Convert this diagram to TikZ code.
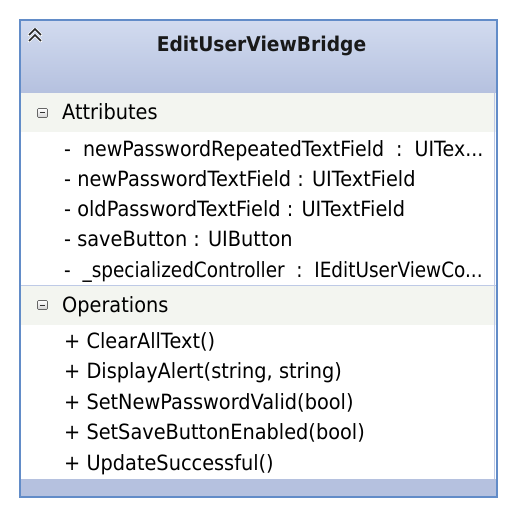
\documentclass[tikz,border=0pt]{standalone}
\usepackage{fontspec}
\setmainfont{DejaVu Sans}[FakeStretch=0.92]
\newfontfamily\narrowA{DejaVu Sans}[FakeStretch=0.905]
\newfontfamily\narrowB{DejaVu Sans}[FakeStretch=0.878]
\begin{document}
\begin{tikzpicture}[x=1pt,y=-1pt,
  item/.style={anchor=base west,inner sep=0pt,font=\fontsize{21}{24}\selectfont,text=black},
  head/.style={anchor=base west,inner sep=0pt,font=\fontsize{21}{24}\selectfont,text=black},
  ttl/.style={anchor=base,inner sep=0pt,font=\fontsize{20.3}{24}\selectfont\bfseries,text=black!90},
  toggle/.style={draw=gray!80!black,line width=0.6pt,rounded corners=1pt,top color=white,bottom color=gray!35}]
\definecolor{hdtop}{RGB}{210,219,239}
\definecolor{hdbot}{RGB}{181,193,223}
\definecolor{band}{RGB}{243,245,240}
\definecolor{frame}{RGB}{98,140,200}
\definecolor{sep}{RGB}{190,202,230}
\useasboundingbox (0,0) rectangle (515,516);
\fill[white] (0,0) rectangle (515,516);
% header
\shade[top color=hdtop,bottom color=hdbot] (20,20) rectangle (497,93);
% attribute band
\fill[band] (21,93) rectangle (496,132);
\fill[white] (21,132) rectangle (494,285);
% operations band
\fill[band] (21,286) rectangle (496,325);
\fill[white] (21,325) rectangle (494,479);
\draw[sep,line width=1.5pt] (21,285.5) -- (496,285.5);
\draw[sep,line width=0.8pt] (494.4,93) -- (494.4,479);
% bottom band
\fill[hdbot] (20,479) rectangle (497,497);
% frame
\draw[frame,line width=2.2pt] (20,20) rectangle (497,497);
% collapse chevrons
\draw[white,line width=3pt,line cap=round,line join=round] (29,35) -- (35,29) -- (41,35) (29,41) -- (35,35) -- (41,41);
\draw[gray!30!black,line width=1.5pt,line join=miter] (29,35) -- (35,29) -- (41,35) (29,41) -- (35,35) -- (41,41);
% title
\node[ttl] (title) at (261.5,52) {EditUserViewBridge};
% attributes
\draw[toggle] (37.5,108.5) rectangle (47.5,117.5);
\draw[black!80,line width=1pt] (40,113) -- (45,113);
\node[head] (attr) at (62,120) {Attributes};
\node[item] (a1) at (64,156) {\narrowA -\ \ newPasswordRepeatedTextField\ \ :\ \ UITex...};
\node[item] (a2) at (64,186) {- newPasswordTextField : UITextField};
\node[item] (a3) at (64,216) {- oldPasswordTextField : UITextField};
\node[item] (a4) at (64,246) {- saveButton : UIButton};
\node[item] (a5) at (64,277) {\narrowB -\ \ \_specializedController\ \ :\ \ IEditUserViewCo...};
% operations
\draw[toggle] (37.5,300.5) rectangle (47.5,309.5);
\draw[black!80,line width=1pt] (40,305) -- (45,305);
\node[head] (ops) at (62,312) {Operations};
\node[item] (o1) at (64,348) {+ ClearAllText()};
\node[item] (o2) at (64,378) {+ DisplayAlert(string, string)};
\node[item] (o3) at (64,409) {+ SetNewPasswordValid(bool)};
\node[item] (o4) at (64,439) {+ SetSaveButtonEnabled(bool)};
\node[item] (o5) at (64,470) {+ UpdateSuccessful()};
\end{tikzpicture}
\end{document}
